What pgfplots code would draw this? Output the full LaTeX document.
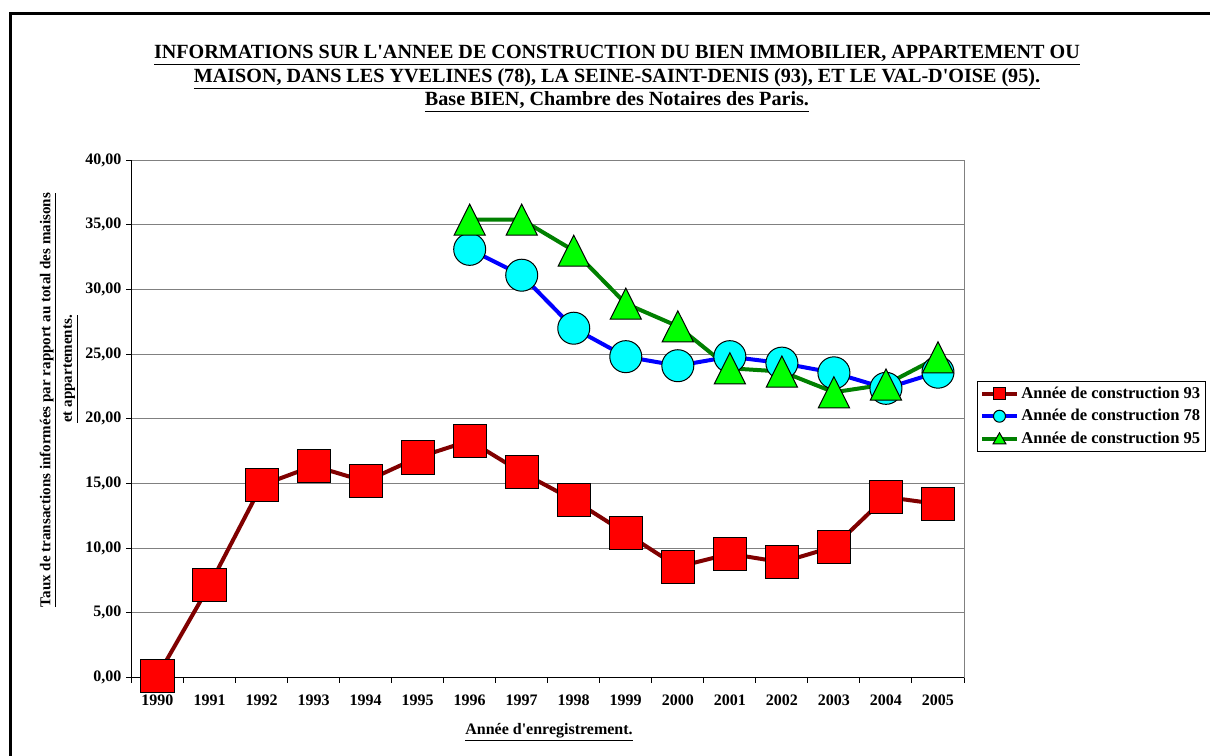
\documentclass[border=0pt]{standalone}
\usepackage{pgfplots}
\pgfplotsset{compat=1.18}
\usepackage{fontspec}
\setmainfont{Liberation Serif}[Ligatures=TeXOff]

\definecolor{line93}{HTML}{800000}
\definecolor{fill93}{HTML}{FF0000}
\definecolor{line78}{HTML}{0000FF}
\definecolor{fill78}{HTML}{00FFFF}
\definecolor{line95}{HTML}{008000}
\definecolor{fill95}{HTML}{00FF00}
\definecolor{gridgray}{HTML}{808080}

\begin{document}
\begin{tikzpicture}
\useasboundingbox (0,0) rectangle (907.5pt,567pt);
\fill[white] (0,0) rectangle (907.5pt,567pt);
\draw[line width=2.25pt] (7.5pt,0) -- (7.5pt,557pt) -- (908pt,557pt);

\begin{axis}[
  at={(98.6pt,59pt)}, anchor=south west,
  scale only axis, width=624.4pt, height=387.9pt,
  xmin=1989.5, xmax=2005.5, ymin=0, ymax=40,
  xtick={1990,...,2005}, ytick={0,5,...,40},
  minor xtick={1989.5,1990.5,...,2005.5},
  tick align=outside, tick pos=left,
  major tick length=4pt, minor tick length=4pt,
  major x tick style={draw=none},
  minor x tick style={black, line width=0.75pt},
  major y tick style={black, line width=0.75pt},
  ymajorgrids, major grid style={gridgray, line width=0.75pt},
  axis line style={gridgray, line width=0.75pt},
  clip=false,
  ticklabel style={font=\bfseries\fontsize{12}{14}\selectfont},
  xticklabel style={yshift=-5.5pt, /pgf/number format/.cd, 1000 sep={}, assume math mode=true},
  yticklabel style={/pgf/number format/.cd, fixed, fixed zerofill, precision=2, use comma, assume math mode=true},
  legend cell align=left,
  legend style={at={(1.0156,0.573)}, anchor=north west, draw=black, line width=0.75pt,
    font=\bfseries\fontsize{12.4}{14}\selectfont, inner xsep=2pt, inner ysep=1pt,
    nodes={inner ysep=3.3pt}},
  legend image code/.code={
    \draw[#1, mark repeat=2, mark phase=2] plot coordinates {(0pt,0pt) (13pt,0pt) (26pt,0pt)};
  },
]
\addplot[line93, line width=3pt, mark=square*, mark size=12.4pt,
  mark options={solid, fill=fill93, draw=black, line width=0.75pt},
  legend image post style={mark size=4.5pt}]
  coordinates {
  (1990,0.1) (1991,7.12) (1992,14.85) (1993,16.35) (1994,15.15) (1995,17.0)
  (1996,18.3) (1997,15.85) (1998,13.7) (1999,11.15) (2000,8.55) (2001,9.55)
  (2002,8.9) (2003,10.1) (2004,13.95) (2005,13.4)
};
\addlegendentry{Année de construction 93}

\addplot[line78, line width=3pt, mark=*, mark size=12pt,
  mark options={solid, fill=fill78, draw=black, line width=0.75pt},
  legend image post style={mark size=4.5pt}]
  coordinates {
  (1996,33.1) (1997,31.1) (1998,27.0) (1999,24.8) (2000,24.1) (2001,24.8)
  (2002,24.3) (2003,23.55) (2004,22.35) (2005,23.6)
};
\addlegendentry{Année de construction 78}

\addplot[line95, line width=3pt, mark=triangle*, mark size=13.5pt,
  mark options={solid, fill=fill95, draw=black, line width=0.75pt, yscale=1.15, yshift=-3.4pt},
  legend image post style={mark size=5.5pt,
    mark options={solid, fill=fill95, draw=black, line width=0.75pt, yshift=-1.2pt}}]
  coordinates {
  (1996,35.4) (1997,35.4) (1998,33.0) (1999,28.9) (2000,27.15) (2001,23.9)
  (2002,23.65) (2003,22.05) (2004,22.65) (2005,24.75)
};
\addlegendentry{Année de construction 95}

\draw[black, line width=0.75pt] (rel axis cs:0,1) -- (rel axis cs:0,0) -- (rel axis cs:1,0);
\end{axis}

\node[align=center, font=\bfseries\fontsize{15.1}{17.6}\selectfont] at (462.75pt,508pt)
  {\underline{INFORMATIONS SUR L'ANNEE DE CONSTRUCTION DU BIEN IMMOBILIER, APPARTEMENT OU}\\
   \underline{MAISON, DANS LES YVELINES (78), LA SEINE-SAINT-DENIS (93), ET LE VAL-D'OISE (95).}\\
   \underline{Base BIEN, Chambre des Notaires des Paris.}};

\node[rotate=90, font=\bfseries\fontsize{11.3}{13}\selectfont] at (36pt,267pt)
  {\underline{Taux de transactions informées par rapport au total des maisons}};
\node[rotate=90, font=\bfseries\fontsize{11.3}{13}\selectfont] at (53pt,290.25pt)
  {\underline{et appartements.}};

\node[font=\bfseries\fontsize{12}{14}\selectfont] at (411.75pt,18pt)
  {\underline{Année d'enregistrement.}};
\end{tikzpicture}
\end{document}
